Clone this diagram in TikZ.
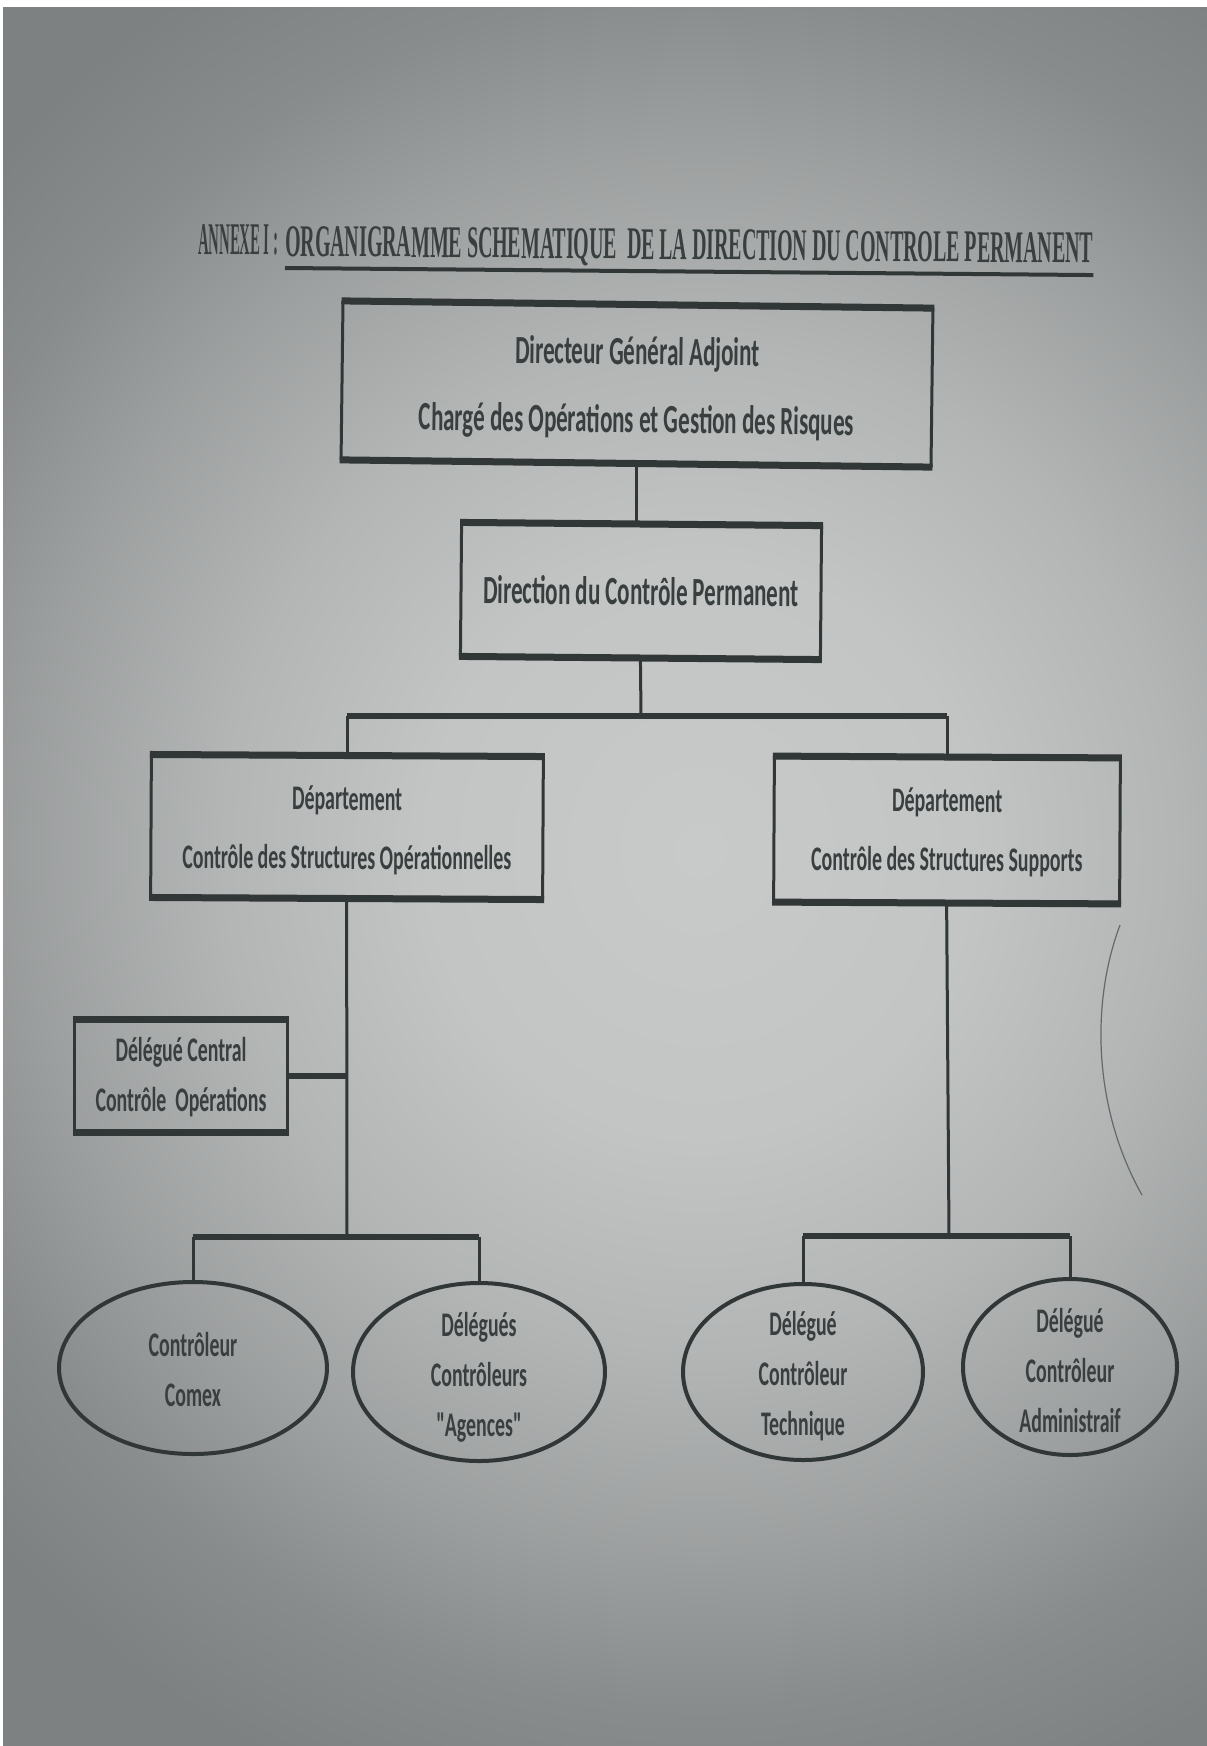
\documentclass[tikz,border=0pt]{standalone}
\usepackage{fontspec}
\newfontfamily\boxfont[FakeStretch=0.575]{Carlito}
\newfontfamily\titlefont{Liberation Serif}
\usetikzlibrary{shapes.geometric}

\definecolor{paperdark}{HTML}{7E8181}
\definecolor{paperlight}{HTML}{C8CACA}
\definecolor{ink}{HTML}{313636}
\definecolor{inktext}{HTML}{393E3F}

% soft light falling on the middle of the sheet
\pgfdeclareradialshading{paperglow}{\pgfpoint{0bp}{0bp}}{%
  color(0bp)=(paperlight); color(6.5bp)=(paperlight!93!paperdark);
  color(11.4bp)=(paperlight!72!paperdark); color(16bp)=(paperlight!42!paperdark);
  color(19.5bp)=(paperlight!15!paperdark); color(23bp)=(paperdark);
  color(50bp)=(paperdark)}

\begin{document}
\begin{tikzpicture}[x=1pt,y=-1pt,
  orgbox/.style={draw=ink, line width=3pt, inner sep=0pt},
  oval/.style={ellipse, draw=ink, line width=4pt, inner sep=0pt},
  words/.style={inner sep=0pt, align=center, text=inktext},
  bigtext/.style={words, font=\boxfont\bfseries\fontsize{40}{68}\selectfont},
  midtext/.style={words, font=\boxfont\bfseries\fontsize{34.5}{59}\selectfont},
  smalltext/.style={words, font=\boxfont\bfseries\fontsize{34.5}{50}\selectfont},
  vlink/.style={draw=ink, line width=3pt},
  hlink/.style={draw=ink, line width=5.5pt},
  edge/.style={draw=ink, line width=7pt}]

\useasboundingbox (0,0) rectangle (1207,1746);

% paper background
\begin{scope}
  \clip (0,0) rectangle (1207,1746);
  \fill[white] (0,0) rectangle (1207,1746);
  \shade[shading=paperglow] (-350,-250) rectangle (1750,1950);
  \fill[white] (0,0) rectangle (3,1746);
  \fill[white] (0,0) rectangle (1207,7);
\end{scope}

% heading
\node[anchor=base west, inner sep=0pt, text=inktext, rotate=-0.5] (annexe) at (198,254)
  {\titlefont\bfseries\resizebox{80pt}{30pt}{ANNEXE I :}};
\node[anchor=base west, inner sep=0pt, text=inktext, rotate=-0.5] (titre) at (285,256)
  {\titlefont\bfseries\resizebox{808pt}{30pt}{ORGANIGRAMME SCHEMATIQUE\ \ DE LA DIRECTION DU CONTROLE PERMANENT}};
\draw[ink, line width=4pt] ([yshift=-12pt]titre.base west) -- ([yshift=-12pt]titre.base east);

% boxes
\node[orgbox, minimum width=590pt, minimum height=156pt, rotate=-0.7] (dga) at (637,384) {};
\node[orgbox, minimum width=360pt, minimum height=131pt, rotate=-0.5] (dcp) at (641,591) {};
\node[orgbox, minimum width=392pt, minimum height=140pt, rotate=-0.3] (dso) at (347,827) {};
\node[orgbox, minimum width=346pt, minimum height=143pt, rotate=-0.3] (dss) at (947,830) {};
\node[orgbox, minimum width=213pt, minimum height=110pt] (dcc) at (181,1076) {};

% heavier top and bottom edges of the boxes
\foreach \b in {dga,dcp,dso,dss,dcc}{
  \draw[edge] (\b.north west) -- (\b.north east);
  \draw[edge] (\b.south west) -- (\b.south east);
}

% box captions
\node[bigtext, rotate=-0.7] (dga-t) at ([yshift=-4pt]dga.center)
  {Directeur Général Adjoint\\Chargé des Opérations et Gestion des Risques};
\node[bigtext, rotate=-0.5] (dcp-t) at (dcp.center)
  {Direction du Contrôle Permanent};
\node[midtext, rotate=-0.3] (dso-t) at ([yshift=-3.3pt]dso.center)
  {Département\\Contrôle des Structures Opérationnelles};
\node[midtext, rotate=-0.3] (dss-t) at ([yshift=-2.2pt]dss.center)
  {Département\\Contrôle des Structures Supports};
\node[smalltext] (dcc-t) at ([yshift=-0.8pt]dcc.center)
  {Délégué Central\\Contrôle\ \ Opérations};

% ovals
\node[oval, minimum width=268pt, minimum height=172pt] (comex) at (193,1368) {};
\node[oval, minimum width=252pt, minimum height=178pt] (agences) at (479,1372) {};
\node[oval, minimum width=240pt, minimum height=176pt] (tech) at (803,1372) {};
\node[oval, minimum width=214pt, minimum height=176pt] (admin) at (1070,1367) {};

\node[smalltext] (comex-t) at ([yshift=-2pt]comex.center) {Contrôleur\\Comex};
\node[smalltext] (agences-t) at ([yshift=-5.5pt]agences.center)
  {Délégués\\Contrôleurs\\"Agences"};
\node[smalltext] (tech-t) at ([yshift=-4.5pt]tech.center)
  {Délégué\\Contrôleur\\Technique};
\node[smalltext] (admin-t) at ([yshift=-4pt]admin.center)
  {Délégué\\Contrôleur\\Administraif};

% junction points
\coordinate (top) at (641,716);
\coordinate (leftbus) at (347,1237);
\coordinate (rightbus) at (949,1236);

% links
\draw[vlink] (dga.south) -- (dga.south |- dcp.north);
\draw[vlink] (dcp.south) -- (top);
\draw[hlink] (dso.north |- top) -- (dss.north |- top);
\draw[vlink] (dso.north |- top) -- (dso.north);
\draw[vlink] (dss.north |- top) -- (dss.north);

\draw[vlink] (dso.south) -- (leftbus);
\draw[hlink] (dcc.east) -- (dcc.east -| dso.south);
\draw[hlink] (comex.north |- leftbus) -- (agences.north |- leftbus);
\draw[vlink] (comex.north |- leftbus) -- (comex.north);
\draw[vlink] (agences.north |- leftbus) -- (agences.north);

\draw[vlink] (dss.south) -- (rightbus);
\draw[hlink] (tech.north |- rightbus) -- (admin.north |- rightbus);
\draw[vlink] (tech.north |- rightbus) -- (tech.north);
\draw[vlink] (admin.north |- rightbus) -- (admin.north);

% curled sheet edge
\draw[ink!75, line width=1.2pt] (1120,925) .. controls (1090,1005) and (1094,1110) .. (1142,1195);
\end{tikzpicture}
\end{document}
